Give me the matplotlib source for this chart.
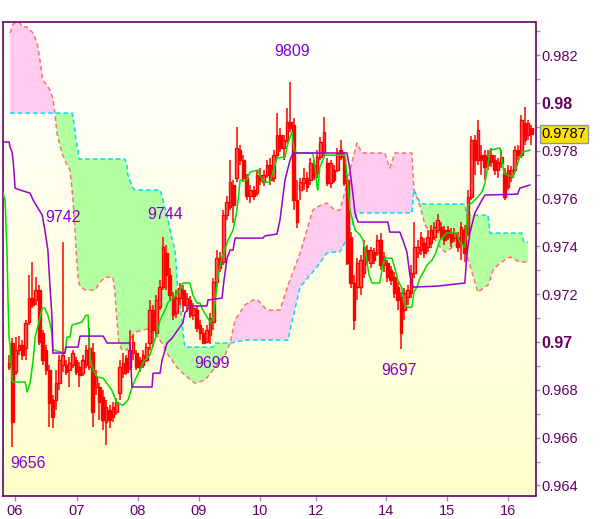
import matplotlib.pyplot as plt
import numpy as np
from matplotlib.colors import LinearSegmentedColormap

plt.rcParams["font.family"] = ["Liberation Sans", "DejaVu Sans"]

# Prices are kept in pips (9700 -> 0.9700), one candle per bar index.
opens = [
    9689.5, 9699.6, 9687.4, 9696.7, 9698.7, 9697.5, 9708.4, 9718.4, 9717.6, 9721.8,
    9703.8, 9696.7, 9688.3, 9675.7, 9675.7, 9682.8, 9690.4, 9690.4, 9688.3, 9690.4,
    9692.5, 9689.5, 9687.0, 9690.4, 9689.5, 9695.8, 9681.2, 9681.2, 9677.0, 9666.5,
    9671.5, 9668.6, 9670.7, 9678.7, 9687.0, 9693.3, 9689.5, 9695.4, 9695.4, 9692.5,
    9690.4, 9692.5, 9699.6, 9713.4, 9703.8, 9714.6, 9723.0, 9737.2, 9728.0, 9718.8,
    9712.1, 9718.4, 9721.8, 9715.5, 9717.6, 9711.3, 9713.4, 9707.1, 9703.8, 9700.0,
    9702.9, 9708.4, 9725.1, 9735.1, 9733.5, 9753.1, 9756.5, 9765.7, 9768.6, 9780.3,
    9776.1, 9768.6, 9761.1, 9763.6, 9762.3, 9769.9, 9766.9, 9769.9, 9774.1, 9768.6,
    9778.2, 9786.6, 9781.2, 9784.5, 9792.0, 9790.8, 9759.4, 9763.6, 9766.5, 9768.6,
    9767.8, 9774.1, 9770.7, 9777.4, 9779.1, 9774.9, 9766.5, 9772.0, 9772.0, 9780.3,
    9777.4, 9767.8, 9743.9, 9724.7, 9723.0, 9723.0, 9728.9, 9738.5, 9733.1, 9737.7,
    9737.2, 9742.7, 9732.2, 9733.1, 9730.1, 9727.2, 9723.0, 9718.8, 9713.4, 9718.8,
    9720.5, 9728.9, 9737.2, 9738.5, 9741.4, 9739.7, 9741.4, 9743.9, 9746.9, 9748.1,
    9746.9, 9746.9, 9745.6, 9743.5, 9743.9, 9741.4, 9746.9, 9745.6, 9760.7, 9784.5,
    9776.1, 9778.2, 9778.2, 9774.1, 9778.2, 9776.1, 9772.0, 9774.9, 9770.7, 9764.9,
    9769.0, 9772.0, 9780.3, 9778.2, 9791.6, 9786.6, 9789.5,
]
highs = [
    9694.6, 9701.7, 9702.1, 9702.5, 9700.8, 9709.2, 9728.0, 9733.5, 9727.2, 9723.8,
    9705.0, 9698.7, 9690.4, 9677.8, 9688.3, 9694.6, 9742.0, 9692.5, 9693.7, 9696.7,
    9693.7, 9691.6, 9694.6, 9698.7, 9705.9, 9699.6, 9688.3, 9682.8, 9679.9, 9675.7,
    9673.6, 9674.9, 9676.6, 9692.5, 9695.4, 9694.6, 9705.0, 9702.9, 9696.7, 9693.7,
    9696.7, 9699.6, 9717.6, 9715.5, 9719.7, 9725.9, 9744.0, 9740.6, 9731.0, 9720.9,
    9721.8, 9724.7, 9723.8, 9720.5, 9719.2, 9716.3, 9715.1, 9709.2, 9705.9, 9707.1,
    9712.1, 9726.8, 9738.5, 9737.7, 9755.2, 9761.1, 9776.1, 9767.8, 9790.0, 9782.4,
    9778.2, 9770.3, 9765.7, 9765.3, 9772.0, 9772.8, 9772.0, 9776.1, 9777.0, 9780.3,
    9795.8, 9789.5, 9786.6, 9797.9, 9809.0, 9793.7, 9767.8, 9768.6, 9772.8, 9771.1,
    9777.0, 9776.1, 9780.3, 9785.8, 9794.1, 9777.0, 9776.1, 9774.1, 9781.2, 9784.5,
    9779.5, 9769.9, 9746.0, 9728.0, 9735.1, 9736.4, 9742.7, 9740.6, 9739.7, 9739.3,
    9744.8, 9745.6, 9737.7, 9734.3, 9731.8, 9729.3, 9725.1, 9720.9, 9722.6, 9723.8,
    9732.2, 9750.2, 9742.7, 9746.0, 9743.5, 9746.9, 9749.0, 9750.2, 9753.6, 9750.2,
    9748.5, 9748.5, 9747.7, 9747.7, 9746.0, 9750.2, 9749.0, 9763.6, 9786.2, 9786.6,
    9792.9, 9782.4, 9780.3, 9780.3, 9781.2, 9778.2, 9777.0, 9780.3, 9772.8, 9774.1,
    9773.6, 9782.0, 9782.4, 9795.0, 9798.3, 9792.9, 9790.8,
]
lows = [
    9688.3, 9656.0, 9686.2, 9694.6, 9692.5, 9692.5, 9707.1, 9714.2, 9715.5, 9698.7,
    9690.4, 9686.2, 9664.4, 9664.0, 9671.5, 9679.9, 9687.4, 9686.2, 9681.2, 9689.1,
    9686.2, 9681.2, 9685.8, 9689.1, 9688.3, 9664.4, 9677.8, 9667.4, 9663.2, 9657.0,
    9664.0, 9666.5, 9669.5, 9675.7, 9684.9, 9686.2, 9688.3, 9692.5, 9688.3, 9687.4,
    9689.1, 9691.6, 9696.7, 9697.9, 9702.1, 9713.4, 9721.8, 9721.8, 9717.6, 9709.2,
    9710.0, 9715.5, 9712.6, 9712.6, 9710.0, 9709.2, 9704.2, 9700.8, 9699.5, 9699.6,
    9699.0, 9705.0, 9723.0, 9729.3, 9732.2, 9751.0, 9755.2, 9749.8, 9766.9, 9774.1,
    9766.9, 9759.4, 9758.2, 9759.4, 9761.1, 9765.7, 9765.3, 9768.6, 9765.7, 9766.9,
    9777.0, 9779.5, 9776.1, 9783.3, 9787.9, 9755.2, 9747.7, 9759.4, 9763.6, 9762.8,
    9765.7, 9767.8, 9768.6, 9776.1, 9777.8, 9765.3, 9764.4, 9766.5, 9771.1, 9776.1,
    9765.3, 9732.2, 9722.6, 9705.0, 9717.6, 9719.7, 9726.8, 9732.2, 9731.0, 9732.6,
    9736.0, 9730.1, 9729.3, 9725.1, 9723.8, 9718.4, 9713.4, 9697.0, 9709.2, 9715.5,
    9718.4, 9726.8, 9735.1, 9736.4, 9735.1, 9737.7, 9739.3, 9742.7, 9745.6, 9742.7,
    9740.6, 9742.7, 9739.7, 9741.8, 9737.7, 9734.3, 9733.5, 9744.4, 9759.4, 9769.9,
    9774.1, 9769.9, 9767.8, 9772.0, 9773.2, 9769.9, 9768.6, 9772.8, 9759.4, 9763.6,
    9766.9, 9771.1, 9776.1, 9777.0, 9782.4, 9784.5, 9782.4,
]
closes = [
    9691.2, 9666.5, 9696.7, 9698.7, 9694.6, 9707.9, 9718.4, 9715.5, 9721.8, 9700.0,
    9692.5, 9688.3, 9674.5, 9668.6, 9682.8, 9692.5, 9694.6, 9687.4, 9691.2, 9695.4,
    9687.4, 9686.2, 9692.5, 9696.7, 9697.5, 9670.7, 9685.4, 9674.9, 9667.4, 9672.8,
    9667.4, 9672.8, 9674.9, 9689.5, 9691.2, 9687.4, 9696.7, 9700.0, 9689.5, 9689.5,
    9694.6, 9697.9, 9713.4, 9705.0, 9717.6, 9723.0, 9739.7, 9728.0, 9719.7, 9711.3,
    9718.4, 9722.6, 9715.5, 9718.4, 9711.3, 9714.2, 9705.9, 9703.8, 9699.6, 9705.0,
    9710.0, 9725.1, 9735.1, 9731.0, 9753.1, 9758.6, 9766.9, 9757.3, 9781.2, 9776.1,
    9768.6, 9761.1, 9763.6, 9761.1, 9769.9, 9767.8, 9769.9, 9774.1, 9767.8, 9778.2,
    9786.6, 9781.2, 9784.5, 9792.0, 9789.5, 9759.4, 9750.2, 9766.9, 9768.6, 9764.9,
    9774.9, 9769.0, 9777.4, 9783.7, 9787.9, 9766.5, 9774.9, 9767.8, 9779.1, 9777.4,
    9766.5, 9733.1, 9724.7, 9709.2, 9733.1, 9734.3, 9739.7, 9734.3, 9738.5, 9734.3,
    9742.7, 9732.2, 9735.6, 9727.2, 9725.9, 9720.5, 9717.6, 9703.8, 9720.5, 9721.8,
    9728.9, 9739.7, 9739.7, 9743.9, 9737.2, 9743.9, 9746.9, 9748.1, 9751.0, 9743.9,
    9742.7, 9743.9, 9741.8, 9745.6, 9739.7, 9748.1, 9737.2, 9760.7, 9784.5, 9776.1,
    9788.7, 9776.1, 9773.2, 9777.4, 9775.3, 9772.0, 9775.3, 9777.4, 9760.7, 9772.0,
    9772.0, 9780.3, 9778.2, 9792.9, 9784.5, 9791.6, 9787.0,
]

day_labels = ["06", "07", "08", "09", "10", "12", "14", "15", "16"]
day_starts = [1.8, 20.3, 38.5, 56.7, 74.9, 91.6, 112.5, 130.7, 149.0]

# conversion line (green) and base line (purple), bar index -> pips
tenkan_x = [
    -1.8, -1.2, -0.6, -0.3, 0.0, 0.3, 0.9, 1.2, 4.8, 5.4,
    6.3, 7.2, 7.8, 9.3, 9.9, 10.7, 11.6, 12.2, 12.8, 13.1,
    16.7, 17.3, 18.2, 18.8, 21.8, 23.0, 23.6, 23.9, 24.2, 25.1,
    26.3, 28.1, 29.6, 30.7, 31.6, 32.2, 34.0, 35.5, 36.7, 37.6,
    39.1, 40.0, 42.1, 43.0, 44.2, 45.1, 46.6, 47.5, 49.0, 51.0,
    51.9, 54.0, 54.9, 56.1, 57.0, 57.9, 59.1, 60.3, 60.9, 61.5,
    62.4, 63.6, 64.5, 65.4, 66.9, 67.8, 68.4, 69.0, 71.0, 71.9,
    74.3, 74.9, 76.1, 77.9, 78.8, 80.0, 82.4, 83.3, 84.5, 85.1,
    86.0, 90.7, 91.3, 91.9, 92.2, 92.8, 93.7, 94.3, 100.3, 100.9,
    101.8, 103.3, 104.8, 105.7, 106.6, 107.5, 108.4, 110.7, 111.6, 112.2,
    114.3, 115.2, 116.1, 117.3, 117.9, 118.8, 120.3, 120.9, 121.8, 122.7,
    123.6, 124.8, 126.3, 127.4, 128.7, 129.6, 130.7, 133.7, 134.6, 136.1,
    136.7, 137.0, 138.2, 140.0, 141.2, 142.1, 143.0, 143.6, 146.6, 147.2,
    147.8, 148.7, 150.5, 151.4, 152.5, 153.4, 155.5,
]
tenkan_y = [
    9762.3, 9759.4, 9738.5, 9717.6, 9702.1, 9698.7, 9684.1, 9683.3, 9683.3, 9679.1,
    9682.8, 9692.5, 9702.1, 9710.5, 9714.2, 9714.2, 9711.3, 9707.9, 9703.8, 9696.7,
    9695.4, 9702.1, 9702.1, 9707.1, 9708.4, 9711.3, 9711.3, 9700.8, 9693.7, 9688.3,
    9685.4, 9684.9, 9682.0, 9679.9, 9676.6, 9674.5, 9673.6, 9675.7, 9680.8, 9684.1,
    9688.3, 9691.6, 9694.6, 9698.7, 9703.8, 9709.2, 9713.4, 9716.7, 9718.4, 9721.8,
    9724.7, 9724.7, 9719.7, 9716.3, 9716.3, 9713.4, 9710.5, 9707.9, 9710.5, 9716.3,
    9728.0, 9735.6, 9738.9, 9742.7, 9746.9, 9753.1, 9759.4, 9767.8, 9767.8, 9771.1,
    9772.0, 9769.9, 9766.9, 9766.9, 9771.1, 9777.0, 9777.4, 9783.3, 9787.9, 9780.3,
    9779.1, 9779.1, 9774.1, 9765.7, 9763.6, 9773.2, 9776.1, 9778.2, 9778.2, 9769.9,
    9755.2, 9746.9, 9744.8, 9742.7, 9736.4, 9728.0, 9724.7, 9724.7, 9732.2, 9735.1,
    9735.1, 9731.0, 9725.9, 9722.6, 9716.7, 9714.6, 9714.6, 9720.9, 9723.0, 9726.8,
    9728.9, 9732.2, 9734.3, 9737.2, 9742.7, 9743.9, 9745.6, 9745.6, 9741.8, 9739.7,
    9749.0, 9757.3, 9758.2, 9760.7, 9762.8, 9766.5, 9774.1, 9780.3, 9781.2, 9776.1,
    9770.7, 9769.9, 9769.0, 9772.8, 9777.4, 9779.5, 9780.3,
]
kijun_x = [
    -1.8, 0.0, 0.3, 0.9, 1.2, 1.5, 1.8, 3.3, 6.3, 7.2,
    8.1, 9.9, 10.7, 11.6, 12.2, 12.8, 13.1, 16.7, 17.0, 20.6,
    21.2, 28.1, 29.3, 36.1, 36.7, 42.7, 43.0, 45.1, 45.7, 47.2,
    48.7, 51.0, 51.9, 52.5, 54.0, 59.1, 59.4, 63.6, 64.2, 65.1,
    66.0, 66.9, 67.5, 75.8, 76.4, 80.0, 80.9, 82.4, 83.9, 84.8,
    100.9, 101.8, 102.7, 103.3, 104.2, 113.1, 113.7, 116.7, 117.6, 118.8,
    119.7, 120.6, 127.8, 136.1, 136.7, 137.6, 139.1, 141.2, 142.1, 151.9,
    152.5, 155.5,
]
kijun_y = [
    9783.7, 9783.7, 9781.6, 9779.5, 9776.1, 9771.1, 9764.4, 9763.6, 9762.3, 9759.4,
    9757.3, 9753.1, 9746.9, 9738.5, 9723.8, 9711.3, 9695.4, 9695.4, 9697.9, 9697.9,
    9702.5, 9702.5, 9699.6, 9699.6, 9681.2, 9681.2, 9687.0, 9687.0, 9692.5, 9699.6,
    9701.7, 9706.3, 9707.9, 9712.1, 9715.1, 9715.1, 9717.6, 9718.4, 9725.9, 9735.1,
    9738.5, 9738.5, 9743.5, 9743.5, 9744.4, 9745.2, 9751.0, 9767.8, 9776.1, 9779.1,
    9779.1, 9772.0, 9761.5, 9754.0, 9750.2, 9750.2, 9746.0, 9746.0, 9742.7, 9737.7,
    9728.0, 9723.0, 9723.4, 9724.7, 9736.4, 9745.6, 9754.0, 9759.4, 9761.5, 9761.9,
    9764.4, 9765.7,
]

# leading spans of the cloud on one shared x grid
cloud_x = [
    0.3, 1.2, 1.8, 3.3, 3.9, 5.4, 6.3, 7.2, 8.4, 9.0,
    10.1, 11.3, 12.2, 13.1, 13.7, 14.3, 15.2, 15.8, 17.0, 18.2,
    18.8, 19.1, 19.7, 20.0, 20.6, 20.9, 21.2, 22.7, 25.7, 27.2,
    28.7, 31.0, 31.6, 32.2, 32.8, 33.7, 34.6, 35.2, 35.5, 36.1,
    37.0, 37.6, 40.0, 42.7, 45.1, 46.0, 47.5, 48.7, 49.6, 50.4,
    51.0, 51.9, 52.5, 55.5, 58.5, 60.9, 61.5, 63.0, 64.5, 66.0,
    67.5, 70.4, 72.8, 74.3, 77.0, 80.9, 83.3, 83.9, 86.9, 90.7,
    91.9, 94.9, 97.3, 98.8, 101.2, 101.8, 103.9, 105.4, 112.2, 113.7,
    115.2, 120.3, 120.9, 122.7, 124.2, 126.3, 128.7, 130.1, 134.6, 136.1,
    136.7, 137.6, 140.0, 142.1, 143.0, 143.6, 144.5, 146.6, 149.6, 152.5,
    153.1, 153.7, 154.9,
]
span_a = [
    9829.3, 9833.0, 9833.5, 9833.5, 9831.8, 9831.8, 9830.5, 9829.3, 9825.1, 9820.1,
    9809.6, 9807.5, 9805.4, 9802.1, 9795.8, 9787.4, 9782.4, 9779.1, 9775.0, 9772.0,
    9764.0, 9759.4, 9746.9, 9738.5, 9728.0, 9724.7, 9723.4, 9721.8, 9721.8, 9725.1,
    9727.2, 9727.2, 9721.8, 9709.2, 9700.0, 9696.7, 9696.7, 9696.7, 9697.5, 9700.0,
    9703.0, 9704.2, 9705.0, 9705.9, 9700.8, 9698.7, 9694.6, 9692.5, 9690.4, 9689.1,
    9688.3, 9687.0, 9686.2, 9682.8, 9684.1, 9688.3, 9689.0, 9692.5, 9694.6, 9699.6,
    9709.2, 9715.5, 9717.6, 9717.6, 9713.4, 9713.4, 9723.8, 9726.0, 9737.2, 9755.2,
    9756.5, 9758.2, 9755.2, 9755.2, 9767.8, 9772.0, 9783.3, 9779.1, 9779.1, 9772.8,
    9779.1, 9779.1, 9763.6, 9757.0, 9749.0, 9744.8, 9739.7, 9737.7, 9741.4, 9740.6,
    9736.4, 9732.2, 9720.9, 9723.0, 9723.8, 9726.0, 9730.1, 9733.1, 9735.6, 9733.5,
    9733.5, 9733.5, 9733.5,
]
span_b = [
    9795.8, 9795.8, 9795.8, 9795.8, 9795.8, 9795.8, 9795.8, 9795.8, 9795.8, 9795.8,
    9795.8, 9795.8, 9795.8, 9795.8, 9795.8, 9795.8, 9795.8, 9795.8, 9795.8, 9795.8,
    9795.8, 9793.7, 9788.7, 9784.5, 9780.3, 9776.6, 9776.6, 9776.6, 9776.6, 9776.6,
    9776.6, 9776.6, 9776.6, 9776.6, 9776.6, 9776.6, 9776.6, 9774.0, 9769.9, 9767.8,
    9764.4, 9763.6, 9763.6, 9763.6, 9763.6, 9759.4, 9751.0, 9742.7, 9738.5, 9721.8,
    9717.6, 9705.0, 9697.9, 9697.9, 9697.9, 9697.9, 9699.6, 9699.6, 9699.6, 9699.6,
    9700.0, 9700.8, 9700.8, 9700.8, 9700.8, 9700.8, 9700.8, 9705.0, 9723.0, 9729.3,
    9731.4, 9737.2, 9737.7, 9737.7, 9743.9, 9746.9, 9754.0, 9754.0, 9754.0, 9754.0,
    9754.0, 9754.0, 9763.6, 9758.2, 9757.7, 9757.7, 9757.7, 9757.7, 9757.7, 9757.7,
    9753.1, 9753.1, 9753.1, 9753.1, 9753.1, 9745.6, 9745.6, 9745.6, 9745.6, 9745.6,
    9745.6, 9741.8, 9741.8,
]

# swing highs / lows that carry a price note: (bar index, kind)
swing_points = [(84, "high"), (16, "high"), (46, "high"), (60, "low"), (117, "low"), (1, "low")]


def pips(values):
    return np.asarray(values, dtype=float) / 10000.0


def main():
    o, h, l, c = pips(opens), pips(highs), pips(lows), pips(closes)
    idx = np.arange(len(o))
    xlim = (-1.8, 157.2)
    ylim = (0.96356, 0.98339)

    fig = plt.figure(figsize=(6.0, 5.19), dpi=100)
    ax = fig.add_axes([0.005, 0.0443, 0.8875, 0.9133])

    # pale yellow to white background
    bg = LinearSegmentedColormap.from_list("bg", ["#FFFFCC", "#FFFFFF"])
    ax.imshow(np.linspace(0, 1, 256).reshape(-1, 1), extent=(*xlim, *ylim),
              aspect="auto", origin="lower", cmap=bg, zorder=0)

    # cloud
    cx = np.asarray(cloud_x)
    a, b = pips(span_a), pips(span_b)
    ax.fill_between(cx, a, b, where=a >= b, interpolate=True, color="#FFCCF0", lw=0, zorder=1)
    ax.fill_between(cx, a, b, where=a < b, interpolate=True, color="#B2FFA2", lw=0, zorder=1)
    ax.plot(cx, a, color="#FF7070", lw=1.1, dashes=(3, 2), zorder=2)
    ax.plot(cx, b, color="#00DDEE", lw=1.1, dashes=(3, 2), zorder=2)

    # candles
    up = c >= o
    ax.vlines(idx, l, h, color="#FF0000", lw=1.1, zorder=3)
    ax.bar(idx[up], (c - o)[up], bottom=o[up], width=0.8, facecolor="#FF6060",
           edgecolor="#FF0000", linewidth=1.0, zorder=3.5)
    ax.bar(idx[~up], (c - o)[~up], bottom=o[~up], width=0.8, facecolor="#FF0000",
           edgecolor="#FF0000", linewidth=1.0, zorder=3.5)

    # indicator lines
    ax.plot(tenkan_x, pips(tenkan_y), color="#00DD00", lw=1.1, zorder=4)
    ax.plot(kijun_x, pips(kijun_y), color="#9900CC", lw=1.1, zorder=4)

    # swing notes
    offsets = {84: (1, 21.5), 16: (0, 17.5), 46: (1.5, 16), 60: (1.5, -13.5),
               117: (-1, -15), 1: (11, -11.5)}
    for bar, kind in swing_points:
        value = highs[bar] if kind == "high" else lows[bar]
        ax.annotate(f"{value:.0f}", xy=(bar, value / 10000.0), xytext=offsets[bar],
                    textcoords="offset points", ha="center", va="center",
                    fontsize=11.5, color="#8800CC", zorder=6)

    ax.set_xlim(*xlim)
    ax.set_ylim(*ylim)

    for spine in ax.spines.values():
        spine.set_color("#660066")
        spine.set_linewidth(1.2)

    # right hand price scale
    ax.yaxis.tick_right()
    major = np.round(np.arange(0.964, 0.9825, 0.002), 3)
    ax.set_yticks(major)
    ax.set_yticks(np.round(np.arange(0.965, 0.9835, 0.002), 3), minor=True)
    ax.set_yticklabels([f"{v:.3f}".rstrip("0") if round(v * 100, 6) % 1 == 0 else f"{v:.3f}"
                        for v in major])
    ax.tick_params(axis="y", which="both", direction="out", colors="#8899AA",
                   labelcolor="#660066", length=3, width=1, pad=1.5, labelsize=10.5)
    for lab in ax.get_yticklabels():
        if lab.get_text() in ("0.97", "0.98"):
            lab.set_fontweight("bold")
            lab.set_fontsize(11.5)

    ax.set_xticks(day_starts)
    ax.set_xticklabels(day_labels)
    ax.tick_params(axis="x", direction="out", colors="#8899AA", labelcolor="#660066",
                   length=3.5, width=1, pad=2.5, labelsize=10.5)

    # last price box
    last = c[-1]
    ax.annotate(f"{last:.4f}", xy=(1.0, last), xycoords=("axes fraction", "data"),
                xytext=(4.2, 0), textcoords="offset points", ha="left", va="center",
                fontsize=10.5, color="black", zorder=10, annotation_clip=False,
                bbox=dict(boxstyle="square,pad=0.12", fc="#FFE000", ec="#8899AA", lw=1))

    fig.savefig("out.png", dpi=100, facecolor="white")


if __name__ == "__main__":
    main()
